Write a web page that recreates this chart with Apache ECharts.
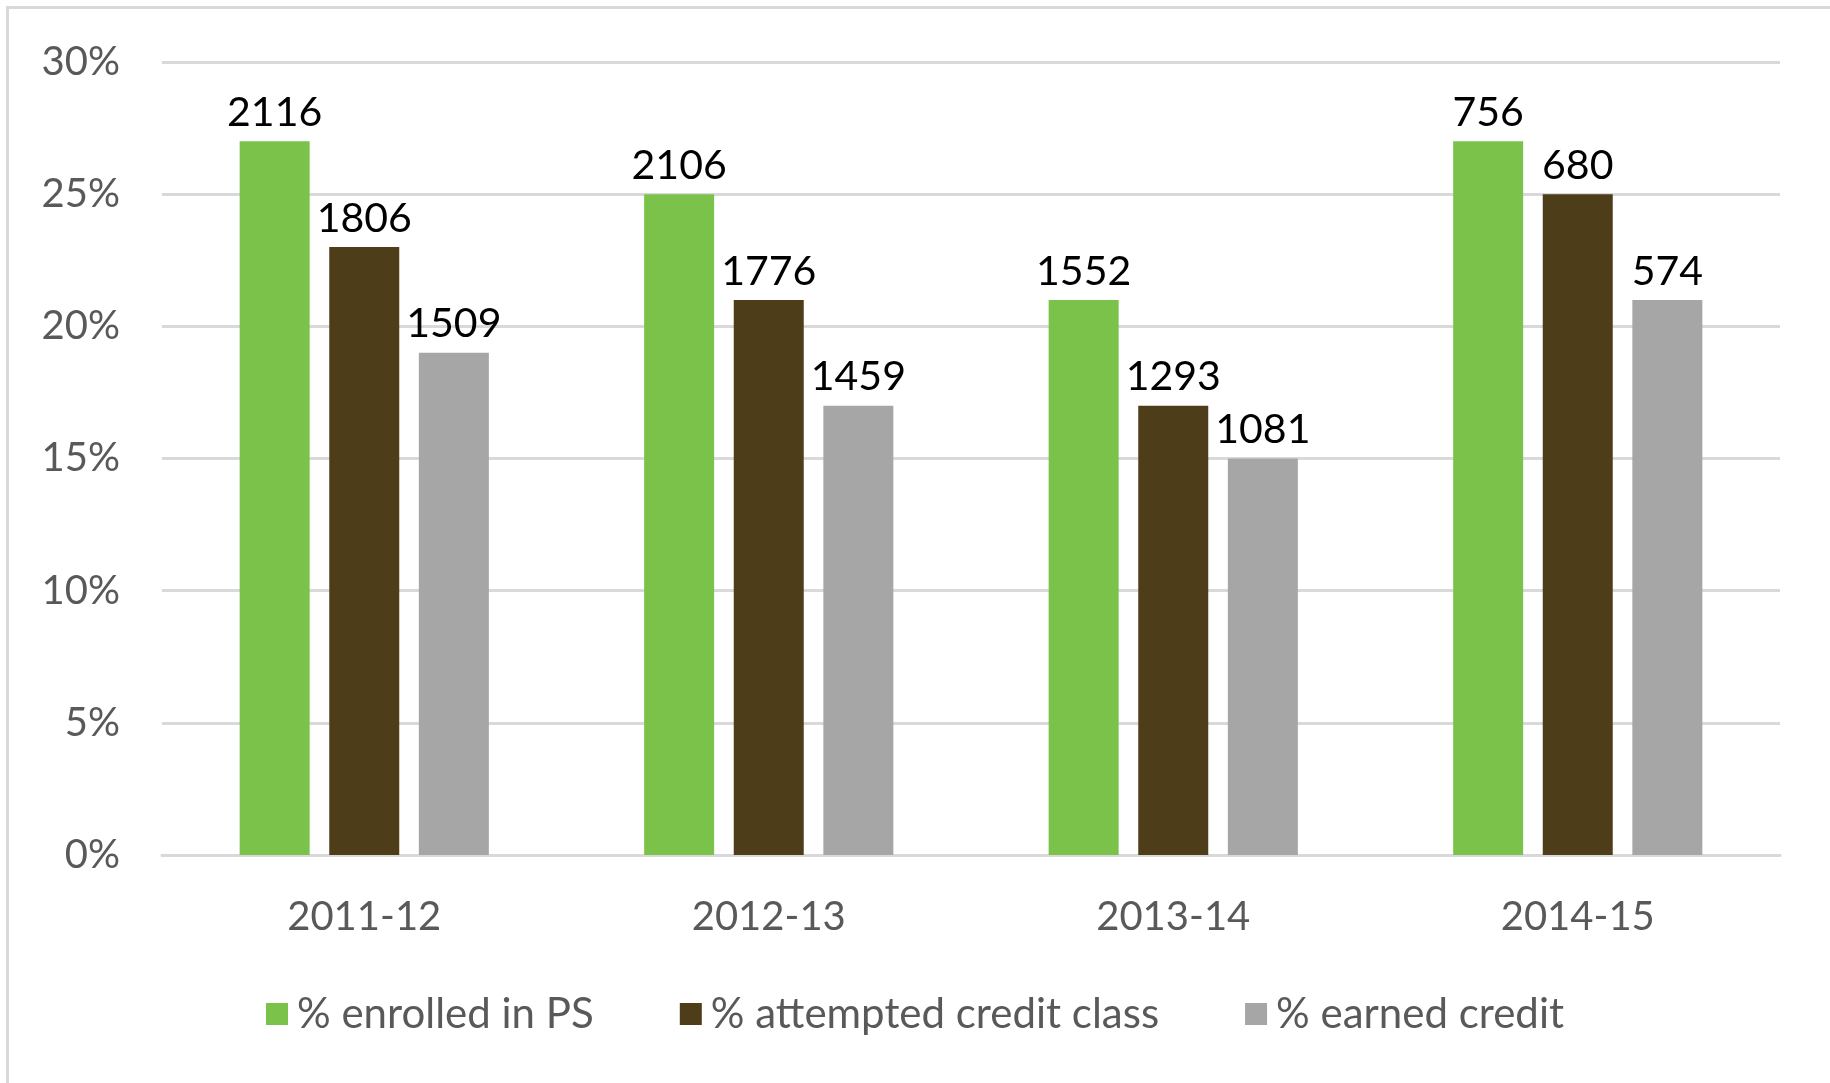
<!DOCTYPE html>
<html>
<head>
<meta charset="utf-8">
<script src="https://cdn.jsdelivr.net/npm/echarts@6/dist/echarts.min.js"></script>
<style>
html,body{margin:0;padding:0;background:#fff;overflow:hidden;}
#frame{position:absolute;left:6px;top:6px;width:1900px;height:1200px;box-sizing:border-box;border:3px solid #d9d9d9;}
#chart{position:absolute;left:0;top:0;width:1830px;height:1083px;}
</style>
</head>
<body>
<div id="frame"></div>
<div id="chart"></div>
<script>
const categories = ['2011-12', '2012-13', '2013-14', '2014-15'];
const seriesNames = ['% enrolled in PS', '% attempted credit class', '% earned credit'];
const enrolledPct = [27, 25, 21, 27];
const attemptedPct = [23, 21, 17, 25];
const earnedPct = [19, 17, 15, 21];
const enrolledCount = [2116, 2106, 1552, 756];
const attemptedCount = [1806, 1776, 1293, 680];
const earnedCount = [1509, 1459, 1081, 574];
const yTicks = [0, 5, 10, 15, 20, 25, 30];

const colors = ['#7AC24A', '#4D3D18', '#A6A6A6'];
const font = 'Lato';

function mk(name, vals, counts, color) {
  return {
    name: name,
    type: 'bar',
    data: vals,
    barWidth: 70,
    barGap: '28%',
    itemStyle: { color: color },
    label: {
      show: true,
      position: 'top',
      distance: 8,
      color: '#000',
      fontFamily: font,
      fontSize: 41,
      formatter: p => String(counts[p.dataIndex])
    }
  };
}

const chart = echarts.init(document.getElementById('chart'));
chart.setOption({
  animation: false,
  backgroundColor: 'transparent',
  grid: { left: 162, right: 50, top: 62, bottom: 228, containLabel: false },
  legend: {
    data: seriesNames,
    bottom: 43,
    left: 'center',
    itemWidth: 22,
    itemHeight: 22,
    itemGap: 86,
    icon: 'rect',
    textStyle: { color: '#595959', fontFamily: font, fontSize: 42, padding: [0, 0, 0, 4] }
  },
  xAxis: {
    type: 'category',
    data: categories,
    axisLine: { show: true, lineStyle: { color: '#d9d9d9', width: 3 } },
    axisTick: { show: false },
    axisLabel: { color: '#595959', fontFamily: font, fontSize: 40, margin: 42 }
  },
  yAxis: {
    type: 'value',
    min: yTicks[0],
    max: yTicks[yTicks.length - 1],
    interval: 5,
    axisLine: { show: false },
    axisTick: { show: false },
    splitLine: { lineStyle: { color: '#d9d9d9', width: 3 } },
    axisLabel: { color: '#595959', fontFamily: font, fontSize: 40, margin: 42, formatter: v => v + '%' }
  },
  series: [
    mk(seriesNames[0], enrolledPct, enrolledCount, colors[0]),
    mk(seriesNames[1], attemptedPct, attemptedCount, colors[1]),
    mk(seriesNames[2], earnedPct, earnedCount, colors[2])
  ]
});
</script>
</body>
</html>
